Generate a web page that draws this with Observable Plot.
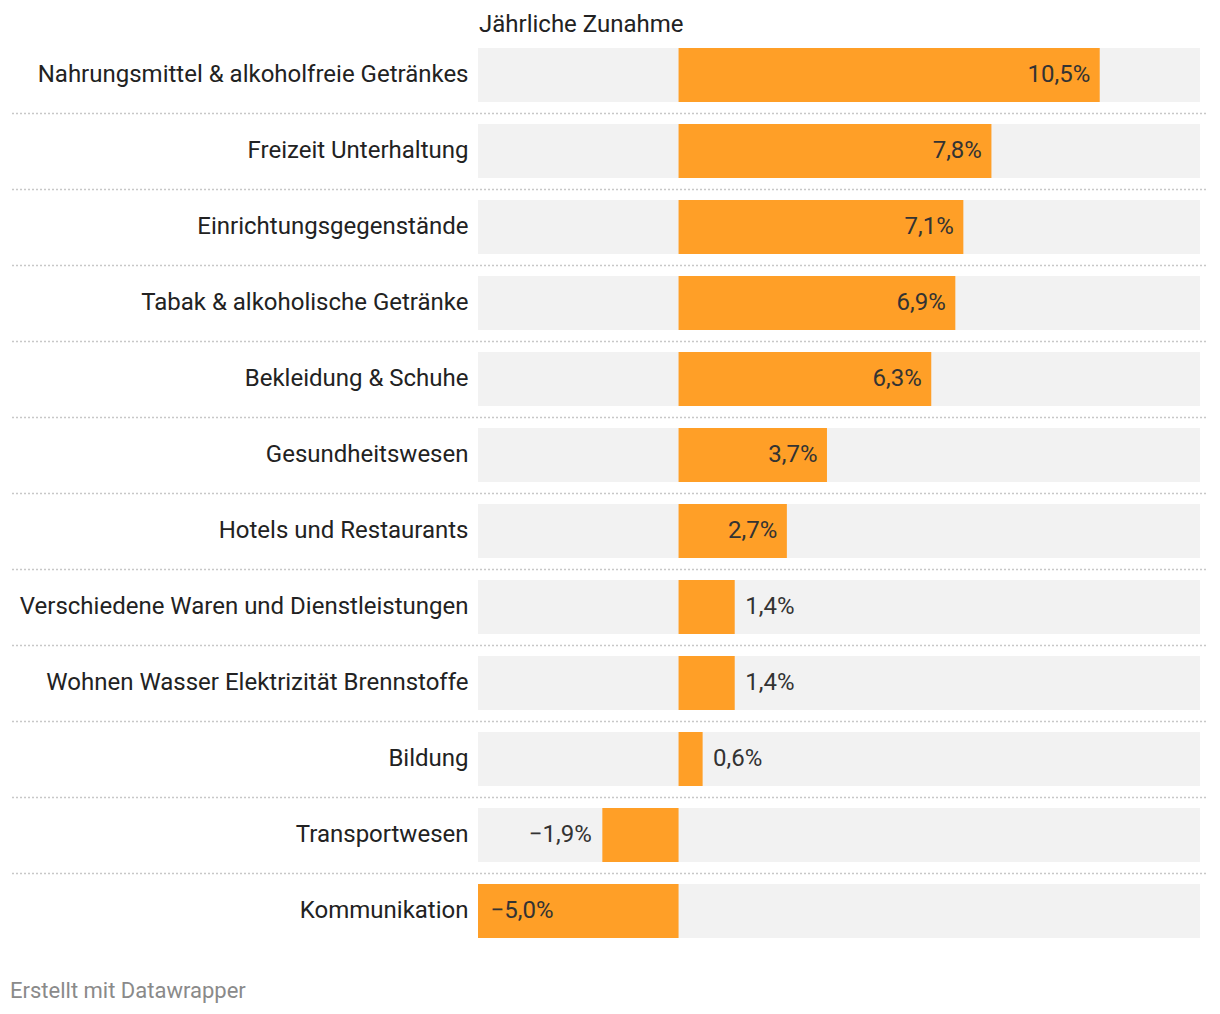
<!DOCTYPE html>
<html>
<head>
<meta charset="utf-8">
<script src="https://cdn.jsdelivr.net/npm/d3@7"></script>
<script src="https://cdn.jsdelivr.net/npm/@observablehq/plot@0.6"></script>
<style>
  html, body { margin: 0; padding: 0; background: #fff; }
  body { font-family: Roboto, "Noto Sans", sans-serif; width: 1220px; }
  #title { height: 37px; box-sizing: border-box; padding-left: 479px; padding-top: 10px; font-size: 24px; line-height: 28px; color: #222; }
  #footer { margin-top: 17px; padding-left: 10px; font-size: 22px; line-height: 28px; color: #8a8a8a; }
  svg { display: block; }
</style>
</head>
<body>
<div id="title">Jährliche Zunahme</div>
<div id="chart"></div>
<div id="footer">Erstellt mit Datawrapper</div>
<script>
const categories = [
  "Nahrungsmittel & alkoholfreie Getränkes",
  "Freizeit Unterhaltung",
  "Einrichtungsgegenstände",
  "Tabak & alkoholische Getränke",
  "Bekleidung & Schuhe",
  "Gesundheitswesen",
  "Hotels und Restaurants",
  "Verschiedene Waren und Dienstleistungen",
  "Wohnen Wasser Elektrizität Brennstoffe",
  "Bildung",
  "Transportwesen",
  "Kommunikation"
];
const values = [10.5, 7.8, 7.1, 6.9, 6.3, 3.7, 2.7, 1.4, 1.4, 0.6, -1.9, -5.0];
const xDomain = [-5, 13];

const data = categories.map((c, i) => ({category: c, value: values[i]}));
const fmt = v => (v < 0 ? "\u2212" : "") + Math.abs(v).toFixed(1).replace(".", ",") + "%";
const isInside = d => Math.abs(d.value) >= 2.5;

const posIn = data.filter(d => d.value >= 0 && isInside(d));
const posOut = data.filter(d => d.value >= 0 && !isInside(d));
const negIn = data.filter(d => d.value < 0 && isInside(d));
const negOut = data.filter(d => d.value < 0 && !isInside(d));

const chart = Plot.plot({
  width: 1220,
  height: 923,
  marginTop: 0,
  marginBottom: 11,
  marginLeft: 12,
  marginRight: 12,
  style: {fontFamily: "Roboto, 'Noto Sans', sans-serif", fontSize: "24px", background: "#fff"},
  x: {domain: xDomain, range: [478, 1200], axis: null},
  y: {domain: categories, paddingInner: 0.29, paddingOuter: 0.145, axis: null},
  marks: [
    Plot.barX(data, {y: "category", x1: xDomain[0], x2: xDomain[1], fill: "#f2f2f2"}),
    Plot.barX(data, {y: "category", x: "value", fill: "#ff9f27"}),
    Plot.ruleY(data.slice(0, -1), {y: "category", dy: 38, stroke: "#c8c8c8", strokeWidth: 1.5, strokeDasharray: "2,2"}),
    Plot.text(data, {y: "category", x: xDomain[0], text: "category", textAnchor: "end", dx: -10, dy: -1, fill: "#222"}),
    Plot.text(posIn, {y: "category", x: "value", text: d => fmt(d.value), textAnchor: "end", dx: -10, dy: -1, fill: "#333", fontSize: 24}),
    Plot.text(posOut, {y: "category", x: "value", text: d => fmt(d.value), textAnchor: "start", dx: 10, dy: -1, fill: "#333", fontSize: 24}),
    Plot.text(negIn, {y: "category", x: "value", text: d => fmt(d.value), textAnchor: "start", dx: 12, dy: -1, fill: "#333", fontSize: 24}),
    Plot.text(negOut, {y: "category", x: "value", text: d => fmt(d.value), textAnchor: "end", dx: -11, dy: -1, fill: "#333", fontSize: 24})
  ]
});
document.getElementById("chart").appendChild(chart);
</script>
</body>
</html>
